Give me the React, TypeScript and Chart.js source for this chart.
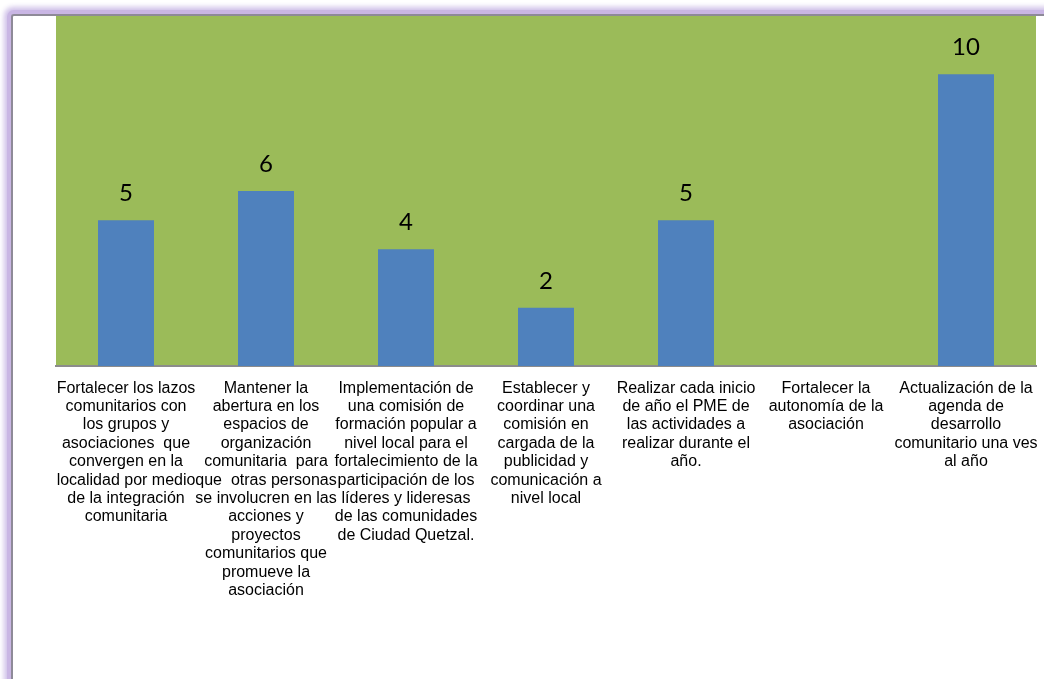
import React, { useEffect, useRef } from "react";
import { Chart, registerables } from "chart.js";

Chart.register(...registerables);

const categories: string[][] = [
  ["Fortalecer los lazos", "comunitarios con", "los grupos y", "asociaciones  que", "convergen en la", "localidad por medio", "de la integración", "comunitaria"],
  ["Mantener la", "abertura en los", "espacios de", "organización", "comunitaria  para", "que  otras personas", "se involucren en las", "acciones y", "proyectos", "comunitarios que", "promueve la", "asociación"],
  ["Implementación de", "una comisión de", "formación popular a", "nivel local para el", "fortalecimiento de la", "participación de los", "líderes y lideresas", "de las comunidades", "de Ciudad Quetzal."],
  ["Establecer y", "coordinar una", "comisión en", "cargada de la", "publicidad y", "comunicación a", "nivel local"],
  ["Realizar cada inicio", "de año el PME de", "las actividades a", "realizar durante el", "año."],
  ["Fortalecer la", "autonomía de la", "asociación"],
  ["Actualización de la", "agenda de", "desarrollo", "comunitario una ves", "al año"],
];

const values: number[] = [5, 6, 4, 2, 5, 0, 10];

const plotBg = {
  id: "plotBg",
  beforeDraw(chart: any) {
    const { ctx, chartArea } = chart;
    ctx.save();
    ctx.fillStyle = "#9BBB59";
    ctx.fillRect(chartArea.left, chartArea.top, chartArea.right - chartArea.left, chartArea.bottom - chartArea.top);
    ctx.restore();
  },
};

const valueLabels = {
  id: "valueLabels",
  afterDatasetsDraw(chart: any) {
    const { ctx } = chart;
    const meta = chart.getDatasetMeta(0);
    ctx.save();
    ctx.fillStyle = "#000000";
    ctx.font = "24px Lato, 'Open Sans', sans-serif";
    ctx.textAlign = "center";
    ctx.textBaseline = "alphabetic";
    meta.data.forEach((el: any, i: number) => {
      const v = values[i];
      if (v > 0) ctx.fillText(String(v), el.x, el.y - 19);
    });
    ctx.restore();
  },
};

export default function App() {
  const ref = useRef<HTMLCanvasElement | null>(null);

  useEffect(() => {
    if (!ref.current) return;
    const chart = new Chart(ref.current, {
      type: "bar",
      data: {
        labels: categories,
        datasets: [
          {
            data: values,
            backgroundColor: "#4F81BD",
            borderWidth: 0,
            categoryPercentage: 1,
            barPercentage: 0.4,
          },
        ],
      },
      options: {
        responsive: false,
        animation: false,
        layout: { padding: { left: 56, right: 8, top: 16, bottom: 0 } },
        plugins: { legend: { display: false }, tooltip: { enabled: false } },
        scales: {
          x: {
            grid: { display: false, drawTicks: false },
            border: { display: true, color: "#8C8C8C", width: 2 },
            ticks: {
              autoSkip: false,
              maxRotation: 0,
              minRotation: 0,
              padding: 13,
              color: "#000000",
              font: { family: "'Liberation Sans', Arial, sans-serif", size: 16, lineHeight: "18.4px" },
            },
            afterFit: (scale: any) => {
              scale.height = 313;
              scale.paddingLeft = 0;
              scale.paddingRight = 0;
            },
          },
          y: {
            display: false,
            min: 0,
            max: 12,
          },
        },
      },
      plugins: [plotBg, valueLabels],
    });
    return () => chart.destroy();
  }, []);

  return (
    <div style={{ position: "fixed", left: 0, top: 0, width: 1044, height: 679, overflow: "hidden", background: "#ffffff" }}>
      <div
        style={{
          position: "absolute",
          left: 11,
          top: 14,
          width: 1200,
          height: 800,
          borderLeft: "2px solid #8E8A98",
          borderTop: "2px solid #8E8A98",
          borderTopLeftRadius: 3,
          background: "#ffffff",
          boxShadow: "0 0 0 4px #C9B6E4, 0 0 5px 7px rgba(205,190,232,0.95)",
        }}
      />
      <canvas ref={ref} width={1044} height={679} style={{ position: "absolute", left: 0, top: 0 }} />
    </div>
  );
}
